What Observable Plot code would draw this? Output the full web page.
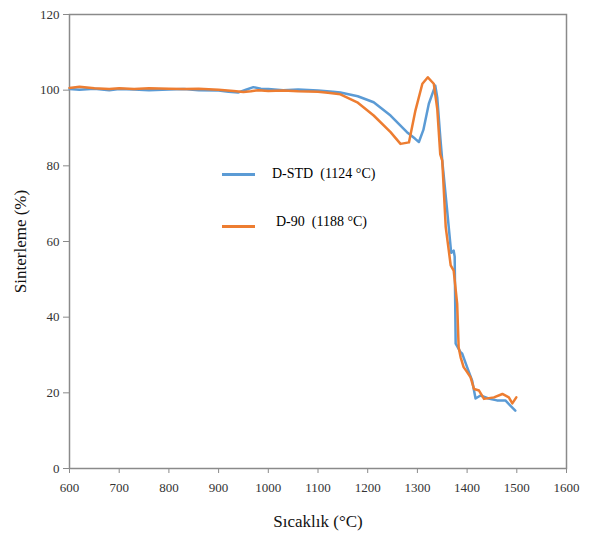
<!DOCTYPE html>
<html>
<head>
<meta charset="utf-8">
<script src="https://cdn.jsdelivr.net/npm/d3@7"></script>
<script src="https://cdn.jsdelivr.net/npm/@observablehq/plot@0.6"></script>
<style>
  body { margin: 0; background: #fff; }
  #wrap { position: relative; width: 590px; height: 538px; font-family: "Liberation Serif", "Times New Roman", Tinos, "DejaVu Serif", "Noto Serif", serif; }
  #wrap svg, #wrap svg text { font-family: "Liberation Serif", "Times New Roman", Tinos, "DejaVu Serif", "Noto Serif", serif !important; }
  .leg-line { position: absolute; height: 3px; width: 33px; }
  .leg-text { position: absolute; font-size: 14px; color: #000; white-space: pre; line-height: 1; }
</style>
</head>
<body>
<div id="wrap"></div>
<script>
// D-STD (blue) readings
const stdTemp = [600,620,650,680,700,730,760,800,830,860,900,920,940,955,970,985,1000,1030,1060,1100,1130,1145,1180,1212,1246,1279,1295,1303,1312,1323,1336,1340,1346,1350,1360,1368,1373,1375,1377,1387,1390,1400,1410,1417,1427,1443,1460,1477,1487,1497];
const stdVal  = [100.3,100.1,100.4,100.0,100.3,100.2,100.0,100.2,100.3,100.0,99.9,99.6,99.4,100.1,100.8,100.4,100.3,100.0,100.2,99.9,99.6,99.4,98.4,96.8,93.3,88.9,87.2,86.3,89.5,96.4,101.2,98.0,87.6,81.4,68.0,57.0,57.6,56.0,33.0,30.7,30.4,26.8,23.3,18.5,19.3,18.5,18.0,18.0,16.6,15.3];
// D-90 (orange) readings
const d90Temp = [600,620,650,680,700,730,760,800,830,860,900,930,950,965,980,1000,1030,1060,1100,1120,1145,1179,1212,1246,1266,1283,1296,1310,1321,1333,1340,1346,1350,1357,1367,1373,1380,1383,1387,1393,1400,1407,1414,1424,1434,1454,1471,1484,1491,1499];
const d90Val  = [100.6,100.9,100.5,100.3,100.5,100.3,100.5,100.4,100.3,100.4,100.1,99.8,99.5,99.7,100.0,99.8,99.9,99.7,99.6,99.3,98.9,96.8,93.3,88.9,85.8,86.2,94.6,101.7,103.4,101.7,95.0,83.0,81.4,63.8,53.7,52.3,43.6,32.0,29.4,26.8,25.5,24.1,21.0,20.6,18.4,18.8,19.7,18.8,17.2,18.8];

const xTicks = [600,700,800,900,1000,1100,1200,1300,1400,1500,1600];
const yTicks = [0,20,40,60,80,100,120];
const seriesNames = ["D-STD  (1124 °C)", "D-90  (1188 °C)"];
const seriesColors = ["#5b9bd5", "#ed7d31"];

const stdData = stdTemp.map((t, i) => ({t, v: stdVal[i]}));
const d90Data = d90Temp.map((t, i) => ({t, v: d90Val[i]}));

const chart = Plot.plot({
  width: 590,
  height: 538,
  marginLeft: 69,
  marginRight: 24,
  marginTop: 14,
  marginBottom: 70,
  style: { fontSize: "13px", color: "#333", background: "#fff" },
  x: { domain: [600, 1600], ticks: xTicks, tickFormat: d3.format("d"), tickSize: 5, tickPadding: 9, label: "Sıcaklık (°C)", labelAnchor: "center", labelArrow: "none", labelOffset: 58 },
  y: { domain: [0, 120], ticks: yTicks, tickFormat: d3.format("d"), tickSize: 6, tickPadding: 4, label: "Sinterleme (%)", labelAnchor: "center", labelArrow: "none", labelOffset: 56 },
  marks: [
    Plot.frame({ stroke: "#8a8a8a", strokeWidth: 1.5 }),
    Plot.line(stdData, { x: "t", y: "v", stroke: seriesColors[0], strokeWidth: 2.5 }),
    Plot.line(d90Data, { x: "t", y: "v", stroke: seriesColors[1], strokeWidth: 2.5 })
  ]
});
const wrap = document.getElementById("wrap");
wrap.appendChild(chart);

// style axis labels
chart.querySelectorAll("[aria-label='x-axis label'] text, [aria-label='y-axis label'] text").forEach(t => {
  t.setAttribute("font-size", "17px");
  t.style.fontSize = "17px";
  t.setAttribute("fill", "#111");
});
chart.querySelectorAll("[aria-label$='tick'] path").forEach(p => p.setAttribute("stroke", "#8a8a8a"));

// legend overlay
const legPos = [{lx: 222, ly: 173, tx: 272, ty: 167}, {lx: 222, ly: 225, tx: 276, ty: 215}];
seriesNames.forEach((name, i) => {
  const l = document.createElement("div");
  l.className = "leg-line";
  l.style.left = legPos[i].lx + "px";
  l.style.top = legPos[i].ly + "px";
  l.style.background = seriesColors[i];
  wrap.appendChild(l);
  const t = document.createElement("div");
  t.className = "leg-text";
  t.style.left = legPos[i].tx + "px";
  t.style.top = legPos[i].ty + "px";
  t.textContent = name;
  wrap.appendChild(t);
});
</script>
</body>
</html>
